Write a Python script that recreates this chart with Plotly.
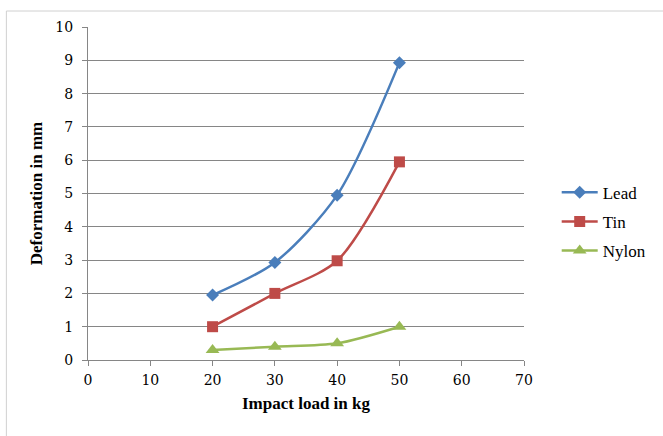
import plotly.graph_objects as go

loads = [20, 30, 40, 50]
lead = [1.95, 2.93, 4.95, 8.93]
tin = [1.0, 2.0, 2.98, 5.95]
nylon = [0.3, 0.4, 0.5, 1.0]
x_ticks = [0, 10, 20, 30, 40, 50, 60, 70]
y_ticks = [0, 1, 2, 3, 4, 5, 6, 7, 8, 9, 10]

FONT = "Liberation Serif, Times New Roman, serif"
TICKFONT = "DejaVu Serif, serif"

fig = go.Figure()
series = [
    ("Lead", lead, "#4A7EBB", "diamond", 10),
    ("Tin", tin, "#BE4B48", "square", 11),
    ("Nylon", nylon, "#98B954", "triangle-up", 12),
]
for name, vals, col, sym, sz in series:
    fig.add_trace(go.Scatter(
        x=loads, y=vals, name=name, mode="lines+markers", legendgroup=name,
        line=dict(color=col, width=2.5, shape="spline", smoothing=0.8),
        marker=dict(symbol=sym, size=sz, color=col),
    ))

W, H = 663, 436
L, R, T, B = 88, 137, 27, 76
pw, ph = W - L - R, H - T - B

fig.add_shape(type="rect", xref="paper", yref="paper",
              x0=(6 - L) / pw, x1=(W + 10 - L) / pw,
              y0=(H - B - (H + 10)) / ph, y1=(H - B - 11) / ph,
              line=dict(color="#D0D0D0", width=1), fillcolor="rgba(0,0,0,0)", layer="below")

fig.update_layout(
    width=W, height=H,
    margin=dict(l=L, r=R, t=T, b=B),
    paper_bgcolor="white", plot_bgcolor="white",
    font=dict(family=FONT, size=14, color="black"),
    showlegend=True,
    legend=dict(x=1.075, y=0.415, xanchor="left", yanchor="middle",
                font=dict(family=FONT, size=17), tracegroupgap=4,
                itemwidth=36),
    xaxis=dict(range=[0, 70], tickvals=x_ticks, showgrid=False,
               showline=True, linecolor="#868686", linewidth=1,
               ticks="outside", ticklen=5, tickcolor="#868686",
               tickfont=dict(family=TICKFONT, size=14),
               ticklabelstandoff=2,
               zeroline=False,
               title=dict(text="<b>Impact load in kg</b>", font=dict(size=17), standoff=10)),
    yaxis=dict(range=[0, 10], tickvals=y_ticks, showgrid=True,
               gridcolor="#868686", gridwidth=1,
               showline=True, linecolor="#868686", linewidth=1,
               ticks="outside", ticklen=5, tickcolor="#868686",
               tickfont=dict(family=TICKFONT, size=14),
               ticklabelstandoff=6,
               zeroline=False,
               title=dict(text="<b>Deformation in mm</b>", font=dict(size=17), standoff=8)),
)

fig.write_html("out.html")
